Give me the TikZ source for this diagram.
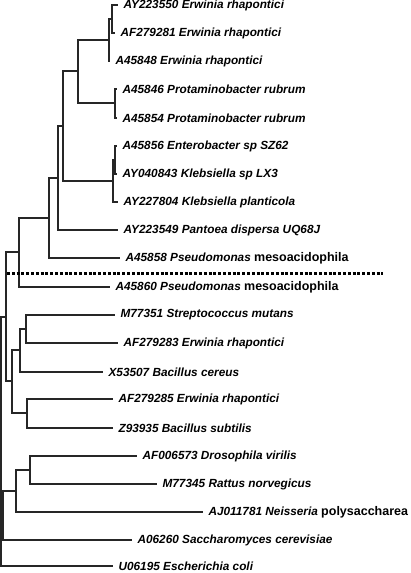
\documentclass[tikz,border=0pt]{standalone}
\usepackage{fontspec}
\setmainfont{Liberation Sans}
\usepackage{tikz}
\usetikzlibrary{positioning}
\tikzset{every picture/.style={line width=1.2pt}}
\tikzstyle{leaf}=[anchor=west,inner xsep=5pt,inner ysep=0pt,font=\fontsize{11.8}{14}\selectfont\bfseries\itshape]
\tikzstyle{branch}=[draw=black!85,line width=1.2pt]
\newcommand{\epith}[1]{{\upshape\fontsize{12.5}{15}\selectfont #1}}

\begin{document}
\begin{tikzpicture}[x=1pt,y=-1pt]
\useasboundingbox (0,0) rectangle (411,573);
% leaves
\node[leaf] (l1) at (118,5) {AY223550 Erwinia rhapontici};
\node[leaf] (l2) at (115,33) {AF279281 Erwinia rhapontici};
\node[leaf] (l3) at (110,61) {A45848 Erwinia rhapontici};
\node[leaf] (l4) at (117,89) {A45846 Protaminobacter rubrum};
\node[leaf] (l5) at (117,118) {A45854 Protaminobacter rubrum};
\node[leaf] (l6) at (117,146) {A45856 Enterobacter sp SZ62};
\node[leaf] (l7) at (117,174) {AY040843 Klebsiella sp LX3};
\node[leaf] (l8) at (118,202) {AY227804 Klebsiella planticola};
\node[leaf] (l9) at (118,230) {AY223549 Pantoea dispersa UQ68J};
\node[leaf] (l10) at (120,258) {A45858 Pseudomonas \epith{mesoacidophila}};
\node[leaf] (l11) at (110,287) {A45860 Pseudomonas \epith{mesoacidophila}};
\node[leaf] (l12) at (115,315) {M77351 Streptococcus mutans};
\node[leaf] (l13) at (118,343) {AF279283 Erwinia rhapontici};
\node[leaf] (l14) at (103,372) {X53507 Bacillus cereus};
\node[leaf] (l15) at (113,399) {AF279285 Erwinia rhapontici};
\node[leaf] (l16) at (113,428) {Z93935 Bacillus subtilis};
\node[leaf] (l17) at (137,456) {AF006573 Drosophila virilis};
\node[leaf] (l18) at (157,484) {M77345 Rattus norvegicus};
\node[leaf] (l19) at (203,512) {AJ011781 Neisseria \epith{polysaccharea}};
\node[leaf] (l20) at (132,540) {A06260 Saccharomyces cerevisiae};
\node[leaf] (l21) at (113,566) {U06195 Escherichia coli};
% inner nodes
\coordinate (n12) at (112,19);
\coordinate (n123) at (109,40);
\coordinate (n45) at (115,103);
\coordinate (n15) at (78,71);
\coordinate (n67) at (115,160);
\coordinate (n68) at (113,181);
\coordinate (n18) at (63,126);
\coordinate (n19) at (58,178);
\coordinate (n110) at (49,218);
\coordinate (n111) at (19,252);
\coordinate (n1213) at (26,329);
\coordinate (n1214) at (20,350);
\coordinate (n1516) at (27,413);
\coordinate (n1216) at (12,381);
\coordinate (n116) at (6,317);
\coordinate (n1718) at (30,470);
\coordinate (n1719) at (16,491);
\coordinate (n1720) at (3,515);
\coordinate (root) at (1,442);
% branches
\foreach \p/\c in {n12/l1.west,n12/l2.west,n123/n12,n123/l3.west,
  n45/l4.west,n45/l5.west,n15/n123,n15/n45,n67/l6.west,n67/l7.west,
  n68/n67,n68/l8.west,n18/n15,n18/n68,n19/n18,n19/l9.west,
  n110/n19,n110/l10.west,n111/n110,n111/l11.west,
  n1213/l12.west,n1213/l13.west,n1214/n1213,n1214/l14.west,
  n1516/l15.west,n1516/l16.west,n1216/n1214,n1216/n1516,
  n116/n111,n116/n1216,n1718/l17.west,n1718/l18.west,
  n1719/n1718,n1719/l19.west,n1720/n1719,n1720/l20.west,
  root/n116,root/l21.west}
  \draw[branch] (\p) |- (\c);
% cut line
\coordinate (cutl) at (7,273);
\coordinate (cutr) at (383,273);
\draw[line width=3pt,dash pattern=on 3pt off 1.8pt] (cutl) -- (cutr);
\end{tikzpicture}
\end{document}
